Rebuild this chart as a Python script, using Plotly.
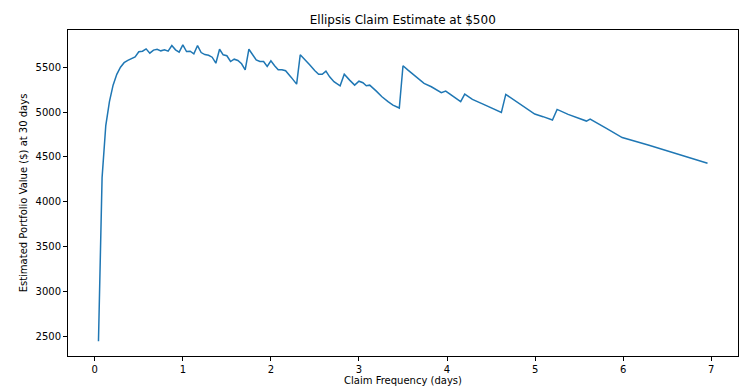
import plotly.graph_objects as go

claim_frequency_days = [
    0.042, 0.083, 0.125, 0.167, 0.208, 0.250, 0.292, 0.333, 0.375, 0.417,
    0.458, 0.500, 0.542, 0.583, 0.625, 0.667, 0.708, 0.750, 0.792, 0.833,
    0.875, 0.917, 0.958, 1.000, 1.042, 1.083, 1.125, 1.167, 1.208, 1.250,
    1.292, 1.333, 1.375, 1.417, 1.458, 1.500, 1.542, 1.583, 1.625, 1.667,
    1.708, 1.750, 1.792, 1.833, 1.875, 1.917, 1.958, 2.000, 2.042, 2.083,
    2.125, 2.167, 2.229, 2.292, 2.333, 2.383, 2.440, 2.497, 2.542, 2.583,
    2.625, 2.667, 2.716, 2.786, 2.833, 2.894, 2.951, 3.000, 3.045, 3.083,
    3.122, 3.197, 3.261, 3.330, 3.386, 3.458, 3.500, 3.557, 3.633, 3.739,
    3.822, 3.890, 3.935, 3.985, 4.068, 4.155, 4.201, 4.288, 4.409, 4.617,
    4.667, 4.750, 4.864, 4.996, 5.090, 5.197, 5.250, 5.375, 5.583, 5.625,
    5.810, 5.989, 6.284, 6.958,
]

portfolio_value = [
    2449, 4270, 4850, 5120, 5300, 5420, 5500, 5550, 5575, 5595,
    5615, 5672, 5678, 5704, 5656, 5690, 5700, 5682, 5693, 5678,
    5741, 5693, 5667, 5749, 5674, 5678, 5649, 5741, 5663, 5640,
    5633, 5611, 5544, 5700, 5638, 5627, 5563, 5589, 5574, 5538,
    5471, 5700, 5638, 5582, 5563, 5563, 5508, 5571, 5516, 5471,
    5471, 5460, 5389, 5311, 5638, 5589, 5527, 5463, 5422, 5420,
    5456, 5393, 5338, 5293, 5422, 5356, 5300, 5344, 5327, 5293,
    5300, 5233, 5171, 5116, 5078, 5045, 5516, 5467, 5404, 5319,
    5282, 5244, 5216, 5233, 5171, 5116, 5200, 5141, 5089, 4997,
    5197, 5144, 5067, 4978, 4949, 4911, 5030, 4974, 4900, 4922,
    4819, 4716, 4633, 4430,
]

x_ticks = [0, 1, 2, 3, 4, 5, 6, 7]
y_ticks = [2500, 3000, 3500, 4000, 4500, 5000, 5500]

title_text = "Ellipsis Claim Estimate at $500"
x_title = "Claim Frequency (days)"
y_title = "Estimated Portfolio Value ($) at 30 days"

fig = go.Figure()
fig.add_trace(go.Scatter(
    x=claim_frequency_days, y=portfolio_value, mode="lines",
    line=dict(color="#1f77b4", width=1.5), showlegend=False,
))

axis_common = dict(
    showgrid=False, zeroline=False, showline=True, mirror=True,
    linecolor="black", linewidth=1, ticks="outside", ticklen=4,
    tickwidth=1, tickcolor="black",
    tickfont=dict(family="DejaVu Sans", size=10, color="black"),
)

fig.update_layout(
    width=754, height=389,
    margin=dict(l=60, r=24, t=22, b=41),
    paper_bgcolor="white", plot_bgcolor="white",
    font=dict(family="DejaVu Sans", size=10, color="black"),
    title=dict(text=title_text, x=0.5236, xanchor="center", y=0.97, yanchor="middle",
               font=dict(family="DejaVu Sans", size=12, color="black")),
    xaxis=dict(range=[-0.304, 7.304], tickvals=x_ticks,
               title=dict(text=x_title, standoff=2,
                          font=dict(family="DejaVu Sans", size=10, color="black")),
               **axis_common),
    yaxis=dict(range=[2284, 5914], tickvals=y_ticks,
               title=dict(text=y_title, standoff=6,
                          font=dict(family="DejaVu Sans", size=10, color="black")),
               **axis_common),
)

fig.write_html("out.html")
